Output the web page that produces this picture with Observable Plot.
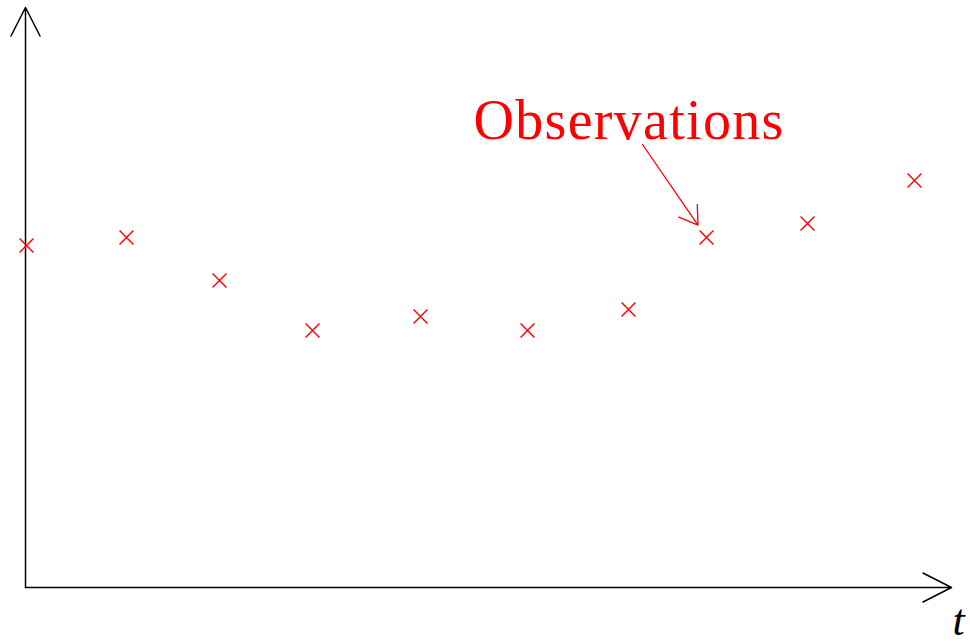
<!DOCTYPE html>
<html>
<head>
<meta charset="utf-8">
<script src="https://cdn.jsdelivr.net/npm/d3@7"></script>
<script src="https://cdn.jsdelivr.net/npm/@observablehq/plot@0.6"></script>
<style>
  html, body { margin: 0; padding: 0; background: #fff; }
  #chart svg { display: block; }
  /* widen the red annotation label a little */
  #chart svg g[fill="#ff0000"] text { letter-spacing: 1.3px; }
</style>
</head>
<body>
<div id="chart"></div>
<script>
// Observation times and observed values
const obsTime  = [0.01, 1.01, 1.94, 2.87, 3.95, 5.02, 6.03, 6.81, 7.82, 8.89];
const obsValue = [3.42, 3.50, 3.07, 2.57, 2.71, 2.57, 2.78, 3.50, 3.64, 4.07];

// Axis extents (time axis and value axis, both starting at the origin)
const tMax = 9.26;
const vMax = 5.8;

// Annotation: label text, where it sits, and which observation it points at
const labelText = "Observations";
const labelPos = {t: 4.48, v: 4.49};
const arrowStart = {t: 6.17, v: 4.43};
const pointedIndex = 7;

const axisLabel = "t";

const observations = obsTime.map((t, i) => ({t, v: obsValue[i]}));
const axes = [
  {x1: 0, y1: 0, x2: tMax, y2: 0},
  {x1: 0, y1: 0, x2: 0, y2: vMax}
];
const target = observations[pointedIndex];

const chart = Plot.plot({
  width: 970,
  height: 641,
  marginLeft: 25,
  marginRight: 19,
  marginTop: 7,
  marginBottom: 54,
  x: {domain: [0, tMax], axis: null},
  y: {domain: [0, vMax], axis: null},
  marks: [
    Plot.arrow(axes, {
      x1: "x1", y1: "y1", x2: "x2", y2: "y2",
      stroke: "black", strokeWidth: 1.5,
      headLength: 32, headAngle: 54
    }),
    Plot.dot(observations, {
      x: "t", y: "v", symbol: "times", r: 6.4,
      stroke: "#ff0000", strokeWidth: 1.4
    }),
    Plot.arrow([{x1: arrowStart.t, y1: arrowStart.v, x2: target.t, y2: target.v}], {
      x1: "x1", y1: "y1", x2: "x2", y2: "y2",
      stroke: "#ff0000", strokeWidth: 1.3,
      headLength: 24, headAngle: 65, insetEnd: 15
    }),
    Plot.text([labelPos], {
      x: "t", y: "v", text: () => labelText,
      textAnchor: "start", lineAnchor: "bottom",
      fill: "#ff0000", fontFamily: "Liberation Serif, serif",
      fontSize: 56
    }),
    Plot.text([{t: tMax, v: 0}], {
      x: "t", y: "v", text: () => axisLabel,
      textAnchor: "start", lineAnchor: "bottom",
      dx: 1, dy: 47,
      fill: "black", fontFamily: "Liberation Serif, serif",
      fontStyle: "italic", fontSize: 44
    })
  ]
});

document.getElementById("chart").append(chart);
</script>
</body>
</html>
